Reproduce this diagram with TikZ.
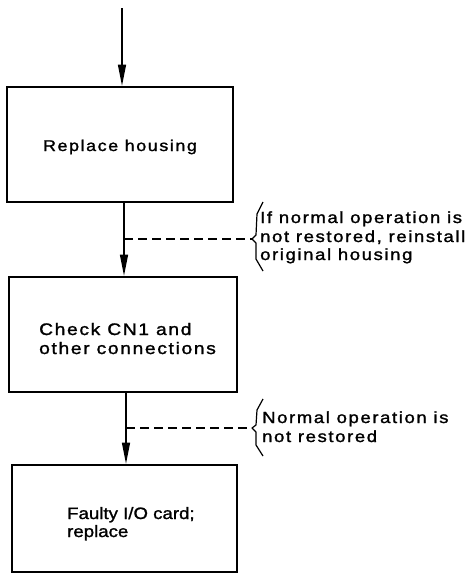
\documentclass[tikz,border=0pt]{standalone}
\usepackage{fontspec}
\setmainfont{Liberation Sans}
\newfontfamily\widefont[FakeStretch=1.15,LetterSpace=10,FakeBold=1.5]{Liberation Sans}
\newfontfamily\plainwide[FakeStretch=1.13,FakeBold=1.2]{Liberation Sans}
\usetikzlibrary{arrows.meta}
\tikzset{
  flowbox/.style={draw, line width=2.6pt, inner sep=0pt},
  flowarrow/.style={line width=1.3pt, -{Triangle[length=21pt,width=8pt]}},
  noteline/.style={line width=1.1pt, dash pattern=on 9pt off 5pt},
  bracket/.style={line width=1.2pt, line join=round},
  txt/.style={inner sep=0pt, anchor=base west},
  notetext/.style={txt, font=\widefont\fontsize{16.1}{19}\selectfont},
  boxtext/.style={txt, font=\widefont\fontsize{16.7}{19}\selectfont},
}
\begin{document}
\begin{tikzpicture}[x=1pt,y=-1pt]
\useasboundingbox (0,0) rectangle (468,581);
% boxes
\node[flowbox, minimum width=226pt, minimum height=115pt] (b1) at (120,144.5) {};
\node[flowbox, minimum width=228pt, minimum height=115pt] (b2) at (123,334.5) {};
\node[flowbox, minimum width=225pt, minimum height=107pt] (b3) at (124.5,518.5) {};
% box texts
\node[txt, anchor=base, font=\widefont\fontsize{15.6}{19}\selectfont] (b1t) at (120,151) {Replace housing};
\node[boxtext] (b2t1) at (39,335) {Check CN1 and};
\node[boxtext] (b2t2) at (39,354) {other connections};
\node[txt, font=\plainwide\fontsize{16.5}{18}\selectfont] (b3t1) at (67,519) {Faulty I/O card;};
\node[txt, font=\plainwide\fontsize{16.5}{18}\selectfont] (b3t2) at (67,537) {replace};
% arrows
\coordinate (start) at (122,8);
\draw[flowarrow] (start) -- (start |- b1.north);
\draw[flowarrow] (b1.south -| 124,0) -- (b2.north -| 124,0);
\draw[flowarrow] (b2.south -| 126,0) -- (b3.north -| 126,0);
% note 1
\coordinate (d1) at (124,239);
\coordinate (t1) at (252,239);
\draw[noteline] (d1) -- (t1);
\draw[bracket] (263,202) -- (257,214) -- (256,235) -- (t1) -- (256,243) -- (256,259) -- (263,271);
\node[notetext] (n1a) at (260,223) {If normal operation is};
\node[notetext] (n1b) at (260,242) {not restored, reinstall};
\node[notetext] (n1c) at (260,260) {original housing};
% note 2
\coordinate (d2) at (126,428);
\coordinate (t2) at (252,428);
\draw[noteline] (d2) -- (t2);
\draw[bracket] (263,399) -- (257,410) -- (256,425) -- (t2) -- (256,432) -- (256,445) -- (263,456);
\node[notetext] (n2a) at (262,423) {Normal operation is};
\node[notetext] (n2b) at (262,442) {not restored};
\end{tikzpicture}
\end{document}
